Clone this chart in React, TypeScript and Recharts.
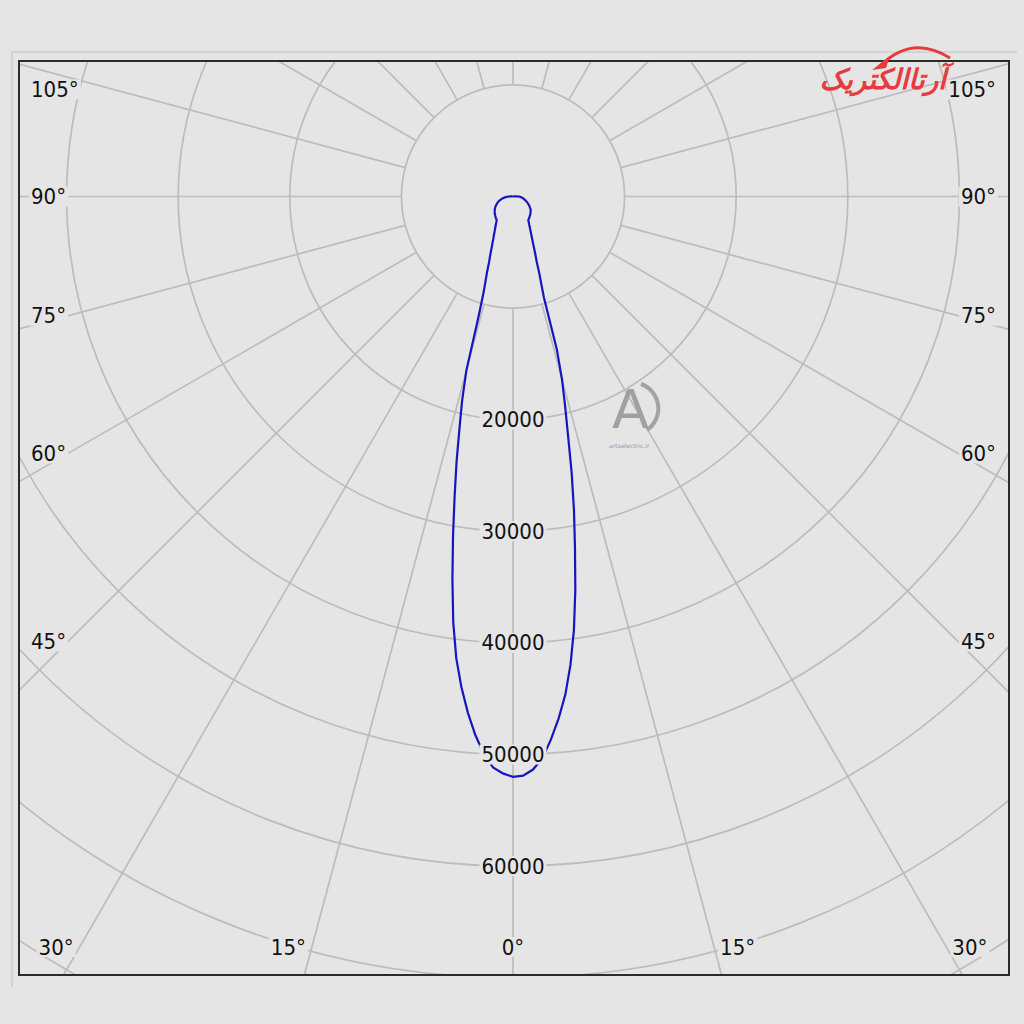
import React from "react";
import { RadarChart, Radar, PolarGrid, PolarAngleAxis, PolarRadiusAxis } from "recharts";

// gamma angles (0 = straight down) of the measured intensity curve
const gammaAngles = [
  0, 1, 2, 3, 4, 5, 6, 7, 8, 9, 10, 11, 12, 13, 14, 15, 16, 17, 18, 19,
  20, 21, 22, 23, 24, 25, 26, 27, 28, 29, 30, 31, 32, 33, 34, 35, 36, 37, 38, 39,
  40, 41, 42, 43, 44, 45, 46, 47, 48, 49, 50, 51, 52, 53, 54, 55, 56, 57, 58, 59,
  60, 61, 62, 63, 64, 65, 66, 67, 68, 69, 70, 71, 72, 73, 74, 75, 76, 77, 78, 79,
  80, 81, 82, 83, 84, 85, 86, 87, 88, 89, 90, 91, 92, 93, 94, 95, 96, 97, 98, 99,
  100, 101, 102, 103, 104, 105, 106, 107, 108, 109, 110, 111, 112, 113, 114, 115, 116, 117, 118, 119,
  120, 121, 122, 123, 124, 125, 126, 127, 128, 129, 130, 131, 132, 133, 134, 135, 136, 137, 138, 139,
  140, 141, 142, 143, 144, 145, 146, 147, 148, 149, 150, 151, 152, 153, 154, 155, 156, 157, 158, 159,
  160, 161, 162, 163, 164, 165, 166, 167, 168, 169, 170, 171, 172, 173, 174, 175, 176, 177, 178, 179,
  180,
];

// C0 plane (right half), cd
const intensityRight = [
  52000, 51900, 51380, 50400, 48770, 46940, 44880, 42270, 39230, 35700,
  31980, 28640, 25270, 21890, 19270, 16960, 14230, 9490, 8160, 7170,
  6180, 5630, 5080, 4630, 4280, 3940, 3700, 3460, 3250, 3080,
  2900, 2770, 2640, 2520, 2490, 2460, 2430, 2410, 2380, 2350,
  2330, 2300, 2270, 2250, 2220, 2200, 2170, 2140, 2120, 2090,
  2060, 2040, 2010, 1980, 1940, 1900, 1850, 1810, 1770, 1730,
  1690, 1650, 1610, 1560, 1520, 1480, 1440, 1400, 1360, 1320,
  1270, 1230, 1190, 1150, 1110, 1080, 1040, 1010, 970, 940,
  900, 870, 840, 800, 770, 730, 700, 660, 630, 560,
  470, 350, 220, 100, 0, 0, 0, 0, 0, 0,
  0, 0, 0, 0, 0, 0, 0, 0, 0, 0,
  0, 0, 0, 0, 0, 0, 0, 0, 0, 0,
  0, 0, 0, 0, 0, 0, 0, 0, 0, 0,
  0, 0, 0, 0, 0, 0, 0, 0, 0, 0,
  0, 0, 0, 0, 0, 0, 0, 0, 0, 0,
  0, 0, 0, 0, 0, 0, 0, 0, 0, 0,
  0, 0, 0, 0, 0, 0, 0, 0, 0, 0,
  0, 0, 0, 0, 0, 0, 0, 0, 0, 0,
  0,
];

// C180 plane (left half), cd
const intensityLeft = [
  52000, 51700, 51180, 50020, 48370, 46420, 44210, 41700, 38490, 34700,
  30960, 27430, 24330, 21320, 18850, 16150, 11230, 9050, 7960, 7110,
  6260, 5760, 5250, 4830, 4500, 4170, 3930, 3700, 3490, 3320,
  3140, 3010, 2880, 2750, 2640, 2550, 2530, 2500, 2470, 2450,
  2420, 2390, 2370, 2340, 2310, 2290, 2260, 2230, 2200, 2170,
  2140, 2110, 2080, 2050, 2020, 1990, 1960, 1920, 1880, 1850,
  1810, 1770, 1730, 1690, 1650, 1610, 1570, 1540, 1500, 1460,
  1420, 1380, 1320, 1270, 1220, 1170, 1120, 1070, 1020, 970,
  920, 870, 820, 770, 720, 660, 600, 540, 470, 400,
  320, 220, 120, 40, 0, 0, 0, 0, 0, 0,
  0, 0, 0, 0, 0, 0, 0, 0, 0, 0,
  0, 0, 0, 0, 0, 0, 0, 0, 0, 0,
  0, 0, 0, 0, 0, 0, 0, 0, 0, 0,
  0, 0, 0, 0, 0, 0, 0, 0, 0, 0,
  0, 0, 0, 0, 0, 0, 0, 0, 0, 0,
  0, 0, 0, 0, 0, 0, 0, 0, 0, 0,
  0, 0, 0, 0, 0, 0, 0, 0, 0, 0,
  0, 0, 0, 0, 0, 0, 0, 0, 0, 0,
  0,
];

const angleLabels = [0, 15, 30, 45, 60, 75, 90, 105];
const ringLabels = [20000, 30000, 40000, 50000, 60000];
const radiusTicks = [0, 10000, 20000, 30000, 40000, 50000, 60000, 70000, 80000, 90000];

type Pt = { key: string; idx: number; gamma: number; side: number; cd: number };

const data: Pt[] = [];
gammaAngles.forEach((g, i) => data.push({ key: `C0 ${g}`, idx: data.length, gamma: g, side: 1, cd: intensityRight[i] }));
for (let i = gammaAngles.length - 2; i >= 1; i--) {
  data.push({ key: `C180 ${gammaAngles[i]}`, idx: data.length, gamma: gammaAngles[i], side: -1, cd: intensityLeft[i] });
}
const byKey: Record<string, Pt> = {};
data.forEach((d) => (byKey[d.key] = d));
const STEP = 360 / data.length;

const BG = "#e5e5e5";
const GRID = "#bcbcbc";
const FONT = "'DejaVu Sans Condensed', 'DejaVu Sans', sans-serif";
const W = 988;
const H = 912;
const CX = 493;
const CY = 134.5;
const R_MAX = 90000;
const OUTER_R = 1004.4;
const RAD = Math.PI / 180;

function Label({ x, y, text, anchor }: { x: number; y: number; text: string; anchor: string }) {
  const w = text.replace("°", "").length * 12.6 + (text.includes("°") ? 10 : 0) + 4;
  const left = anchor === "start" ? x - 2 : anchor === "end" ? x - w + 2 : x - w / 2;
  return (
    <g>
      <rect x={left} y={y - 10} width={w} height={20} fill={BG} />
      <text
        x={x}
        y={y}
        textAnchor={anchor}
        dominantBaseline="central"
        fontFamily={FONT}
        fontStretch="condensed"
        fontSize={22}
        fill="#111"
      >
        {text}
      </text>
    </g>
  );
}

function AngleTick(props: any) {
  const pt = byKey[props.payload?.value];
  if (!pt || pt.gamma % 15 !== 0) return <g />;
  // same angle as the radar vertex of this category (0 at the bottom)
  const a = -90 + pt.idx * STEP;
  const ux = Math.cos(-a * RAD);
  const uy = Math.sin(-a * RAD);
  const r0 = (OUTER_R * 10000) / R_MAX;
  const g = pt.gamma;
  let label = null;
  if (angleLabels.includes(g)) {
    const s = g === 0 ? 0 : pt.side;
    const t = Math.tan(g * RAD);
    if (g < 31.7) {
      const y = 885;
      const rx = CX + s * (y - CY) * t;
      label = <Label x={rx + s * 6} y={y} text={`${g}°`} anchor={s > 0 ? "start" : s < 0 ? "end" : "middle"} />;
    } else {
      const cot = Math.abs(g - 90) < 1e-6 ? 0 : 1 / t;
      const yRay = CY + 463 * cot;
      const off = g < 90 ? -18 * cot : g > 90 ? 17 : 0;
      label = <Label x={s < 0 ? 11 : W - 12} y={yRay + off} text={`${g}°`} anchor={s < 0 ? "start" : "end"} />;
    }
  }
  return (
    <g>
      <line
        x1={CX + ux * r0}
        y1={CY + uy * r0}
        x2={CX + ux * 1500}
        y2={CY + uy * 1500}
        stroke={GRID}
        strokeWidth={1.7}
      />
      {label}
    </g>
  );
}

function RingTick(props: any) {
  const v = props.payload?.value;
  if (!ringLabels.includes(v)) return <g />;
  return <Label x={props.x} y={props.y} text={String(v)} anchor="middle" />;
}

export default function App() {
  return (
    <div style={{ position: "absolute", left: 0, top: 0, width: 1024, height: 1024, background: BG, overflow: "hidden" }}>
      <div
        style={{
          position: "absolute",
          left: 11,
          top: 51,
          width: 1004,
          height: 934,
          borderLeft: "2px solid #d3d3d3",
          borderTop: "2px solid #d3d3d3",
        }}
      />
      <div style={{ position: "absolute", left: 20, top: 62, width: W, height: H, overflow: "hidden" }}>
        <RadarChart
          width={W}
          height={H}
          data={data}
          cx={CX}
          cy={CY}
          innerRadius={0}
          outerRadius={OUTER_R}
          startAngle={-90 - STEP}
          endAngle={270 - STEP}
          margin={{ top: 0, right: 0, bottom: 0, left: 0 }}
        >
          <PolarGrid gridType="circle" radialLines={false} stroke={GRID} strokeWidth={1.7} />
          <PolarAngleAxis
            dataKey="key"
            tick={AngleTick}
            tickLine={false}
            axisLine={false}
            {...({ zIndex: -50 } as any)}
          />
          <Radar
            dataKey="cd"
            stroke="#1616c0"
            strokeWidth={2.2}
            fill="none"
            fillOpacity={0}
            dot={false}
            isAnimationActive={false}
          />
          <PolarRadiusAxis
            angle={-90}
            domain={[0, R_MAX]}
            ticks={radiusTicks as any}
            tickCount={10}
            axisLine={false}
            tick={RingTick}
          />
        </RadarChart>
      </div>
      <div
        style={{
          position: "absolute",
          left: 18,
          top: 60,
          width: 992,
          height: 916,
          boxSizing: "border-box",
          border: "2px solid #2b2b2b",
          pointerEvents: "none",
        }}
      />
      {/* watermarks */}
      <svg width={1024} height={1024} style={{ position: "absolute", left: 0, top: 0, pointerEvents: "none" }}>
        <path d="M 880 66 Q 912 34 950 58" fill="none" stroke="#e63b3f" strokeWidth={3} />
        <path d="M 872 70 L 890 56 L 886 68 Z" fill="#e63b3f" />
        <path d="M 641 384 A 26 26 0 0 1 647 430" fill="none" stroke="#a3a3a3" strokeWidth={4} />
        <text x={612} y={428} fontFamily="'DejaVu Sans', sans-serif" fontSize={54} fill="#a0a0a0">
          A
        </text>
        <text x={609} y={448} fontFamily="'DejaVu Sans', sans-serif" fontSize={6} fill="#9a9a9a">
          artaelectric.ir
        </text>
      </svg>
      <div
        style={{
          position: "absolute",
          left: 806,
          top: 62,
          width: 140,
          textAlign: "right",
          direction: "rtl",
          fontFamily: "'DejaVu Sans', sans-serif",
          fontWeight: "bold",
          fontStyle: "italic",
          fontSize: 28,
          color: "#e63b3f",
          lineHeight: "36px",
        }}
      >
        آرتاالکتریک
      </div>
    </div>
  );
}
